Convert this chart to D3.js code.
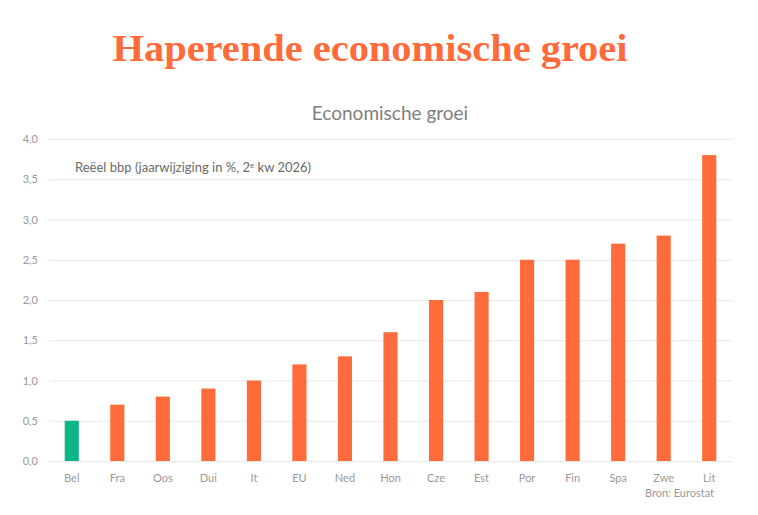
<!DOCTYPE html>
<html>
<head>
<meta charset="utf-8">
<script src="https://cdn.jsdelivr.net/npm/d3@7"></script>
<style>
  body { margin: 0; background: #fff; }
  text { font-family: Lato, "Open Sans", sans-serif; }
</style>
</head>
<body>
<svg id="chart" width="758" height="515"></svg>
<script>
// chart data
var countries = ['Bel', 'Fra', 'Oos', 'Dui', 'It', 'EU', 'Ned', 'Hon', 'Cze', 'Est', 'Por', 'Fin', 'Spa', 'Zwe', 'Lit'];
var growth = [0.5, 0.7, 0.8, 0.9, 1.0, 1.2, 1.3, 1.6, 2.0, 2.1, 2.5, 2.5, 2.7, 2.8, 3.8];
var yTicks = [0, 0.5, 1, 1.5, 2, 2.5, 3, 3.5, 4];
var highlight = 'Bel';

var svg = d3.select('#chart');
var margin = {top: 139, right: 26, bottom: 54, left: 49};
var width = 758 - margin.left - margin.right;
var height = 515 - margin.top - margin.bottom;

var x = d3.scaleBand().domain(countries).range([0, width]).paddingInner(0.69).paddingOuter(0.345);
var y = d3.scaleLinear().domain([0, 4]).range([height, 0]);
var fmt = function(d){ return d3.format('.1f')(d).replace('.', ','); };

// title + subtitle
svg.append('text')
    .attr('x', 370).attr('y', 61)
    .attr('text-anchor', 'middle')
    .attr('textLength', 515)
    .attr('lengthAdjust', 'spacingAndGlyphs')
    .style('font-family', '"Liberation Serif", "DejaVu Serif", serif')
    .style('font-weight', 'bold')
    .style('font-size', '38px')
    .attr('fill', '#ff6b3b')
    .text('Haperende economische groei');

svg.append('text')
    .attr('x', 390).attr('y', 120)
    .attr('text-anchor', 'middle')
    .style('font-size', '19px')
    .attr('fill', '#808080')
    .text('Economische groei');

var g = svg.append('g').attr('transform', 'translate(' + margin.left + ',' + margin.top + ')');

// gridlines + y labels
var yAxis = g.append('g').call(d3.axisLeft(y).tickValues(yTicks).tickSize(-width).tickFormat(fmt));
yAxis.select('.domain').remove();
yAxis.selectAll('.tick line').attr('stroke', '#e8e8e8');
yAxis.selectAll('.tick text')
    .attr('x', -11)
    .attr('fill', '#999')
    .style('font-size', '11px');

// bars
g.selectAll('rect.bar')
    .data(countries)
    .enter().append('rect')
    .attr('class', 'bar')
    .attr('x', function(d){ return x(d); })
    .attr('width', x.bandwidth())
    .attr('y', function(d, i){ return y(growth[i]); })
    .attr('height', function(d, i){ return height - y(growth[i]); })
    .attr('fill', function(d){ return d === highlight ? '#0cb688' : '#ff6b3b'; });

// x labels
var xAxis = g.append('g').attr('transform', 'translate(0,' + height + ')')
    .call(d3.axisBottom(x).tickSize(0).tickPadding(13));
xAxis.select('.domain').remove();
xAxis.selectAll('.tick text')
    .attr('fill', '#999')
    .style('font-size', '11px');

// annotation
var note = svg.append('text')
    .attr('x', 75).attr('y', 172)
    .style('font-size', '13px')
    .attr('fill', '#6a6a6a');
note.append('tspan').text('Reëel bbp (jaarwijziging in %, 2');
note.append('tspan').attr('dy', -4).style('font-size', '8px').text('e');
note.append('tspan').attr('dy', 4).text(' kw 2026)');

// source
svg.append('text')
    .attr('x', 714).attr('y', 497)
    .attr('text-anchor', 'end')
    .style('font-size', '11px')
    .attr('fill', '#999')
    .text('Bron: Eurostat');
</script>
</body>
</html>
